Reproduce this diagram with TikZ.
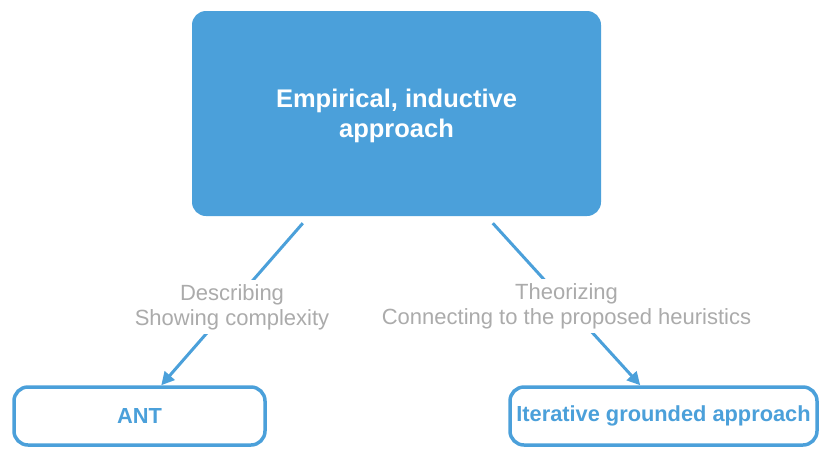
\documentclass[tikz,border=0pt]{standalone}
\usepackage{fontspec}
\setmainfont{Liberation Sans}
\usetikzlibrary{arrows.meta}
\definecolor{boxblue}{HTML}{4BA0DA}
\definecolor{labelgray}{HTML}{ABABAB}
\begin{document}
\begin{tikzpicture}[x=1pt,y=-1pt,
  mainbox/.style={fill=boxblue, draw=none, rounded corners=14pt, minimum width=409pt, minimum height=205pt, text=white, font=\fontsize{25.5}{30}\selectfont\bfseries, inner sep=0pt},
  leafbox/.style={draw=boxblue, line width=3.5pt, fill=white, rounded corners=14pt, minimum height=58pt, text=boxblue, font=\fontsize{21.8}{25}\selectfont\bfseries, inner sep=0pt},
  conn/.style={draw=boxblue, line width=3pt, -{Triangle[length=13pt,width=13pt]}},
  lbl/.style={fill=white, text=labelgray, font=\fontsize{22}{25.5}\selectfont, align=center, inner sep=4pt}
]
\useasboundingbox (0,0) rectangle (819,448);
\node[mainbox] (top) at (396.5,113.5) {\raisebox{0pt}[\dimexpr\height+6pt\relax]{\begin{tabular}{@{}c@{}}Empirical, inductive\\approach\end{tabular}}};
\node[leafbox, minimum width=251pt] (ant) at (139.5,416) {ANT};
\node[leafbox, minimum width=307pt] (iter) at (663.5,416) {Iterative grounded approach};
\path[conn] ([shift={(111pt,-7pt)}]top.south west) -- ([xshift=149pt]ant.north west)
  node[lbl, pos=0.5, yshift=-3pt] (l1) {Describing\\Showing complexity};
\path[conn] ([shift={(301pt,-7pt)}]top.south west) -- ([xshift=132pt]iter.north west)
  node[lbl, pos=0.5, yshift=-2pt] (l2) {Theorizing\\Connecting to the proposed heuristics};
\end{tikzpicture}
\end{document}
